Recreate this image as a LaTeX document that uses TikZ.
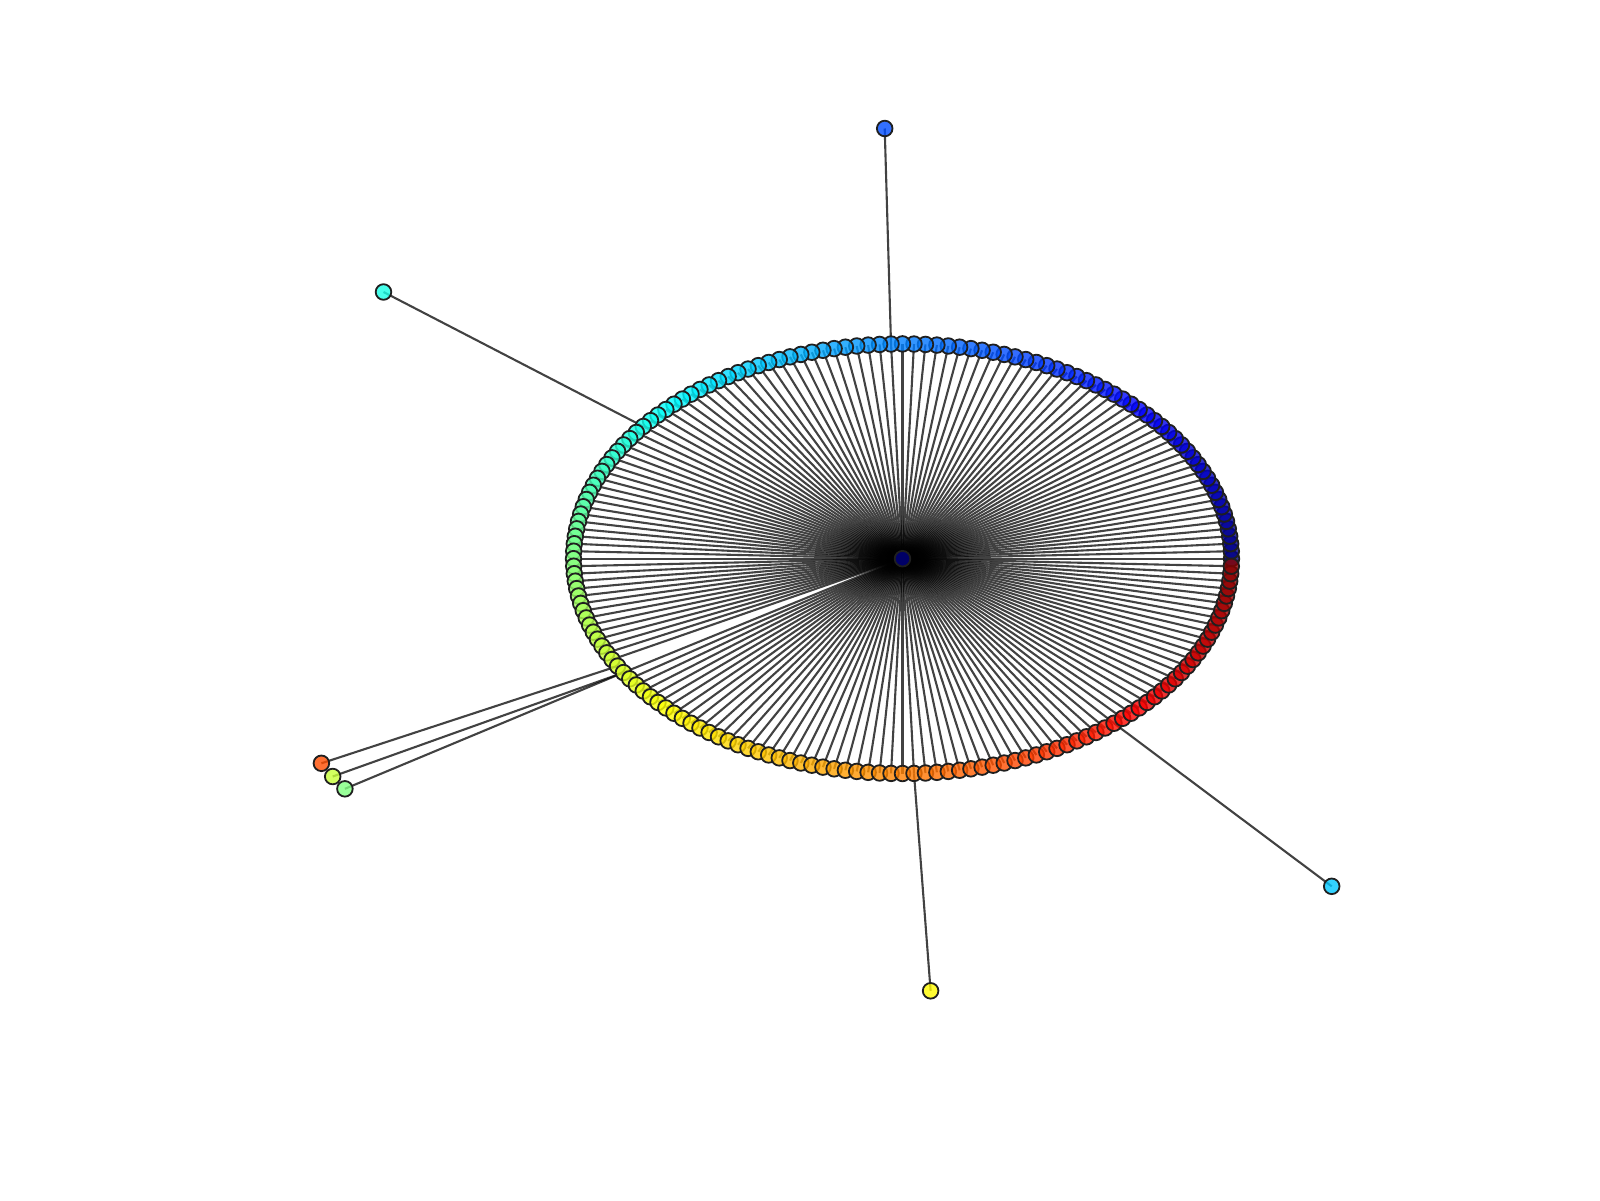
\documentclass[tikz,border=0pt]{standalone}
\newcommand\setjet[2]{%
  \pgfmathsetmacro\jr{max(0,min(1,1.5-abs(4*#2-3)))}%
  \pgfmathsetmacro\jg{max(0,min(1,1.5-abs(4*#2-2)))}%
  \pgfmathsetmacro\jb{max(0,min(1,1.5-abs(4*#2-1)))}%
  \definecolor{#1}{rgb}{\jr,\jg,\jb}}
\begin{document}
\begin{tikzpicture}[x=0.5pt,y=-0.5pt,
  vtx/.style={circle,inner sep=0pt,minimum size=7.8pt,draw=black!88,line width=0.9pt,fill opacity=0.8},
  edg/.style={draw=black,draw opacity=0.74,line width=1.05pt}]
\useasboundingbox (0,0) rectangle (1600,1200);
\coordinate (c) at (902.5,558.7);
\foreach \i in {0,...,179}{
  \coordinate (r\i) at ({902.5+329*cos(2*\i)},{558.7-214.8*sin(2*\i)});
}
\coordinate (o1) at (884.7,128.5);
\coordinate (o2) at (383.5,292);
\coordinate (o3) at (1331.7,886.3);
\coordinate (o4) at (930.6,990.8);
\coordinate (o5) at (321.4,763.3);
\coordinate (o6) at (332.7,776.5);
\coordinate (o7) at (344.9,788.8);
% rays
\foreach \i in {0,...,179}{
  \ifnum\i=105\relax\else\draw[edg] (c) -- (r\i);\fi
}
% outer edges
\draw[edg] (o1) -- (r46);
\draw[edg] (o2) -- (r71);
\draw[edg] (o3) -- (r155);
\draw[edg] (o4) -- (r136);
\draw[edg] (o5) -- (r105);
\draw[edg] (o6) -- (r106);
\draw[edg] (o7) -- (r106);
% nodes
\setjet{cc}{0}
\node[vtx,fill=cc] (nc) at (c) {};
\foreach \i in {0,...,179}{
  \pgfmathsetmacro\tt{\i/180}
  \setjet{nc}{\tt}
  \node[vtx,fill=nc] (n\i) at (r\i) {};
}
\setjet{c1}{0.2}\node[vtx,fill=c1] (no1) at (o1) {};
\setjet{c2}{0.4}\node[vtx,fill=c2] (no2) at (o2) {};
\setjet{c3}{0.32}\node[vtx,fill=c3] (no3) at (o3) {};
\setjet{c4}{0.63}\node[vtx,fill=c4] (no4) at (o4) {};
\setjet{c5}{0.8}\node[vtx,fill=c5] (no5) at (o5) {};
\setjet{c6}{0.57}\node[vtx,fill=c6] (no6) at (o6) {};
\setjet{c7}{0.5}\node[vtx,fill=c7] (no7) at (o7) {};
\end{tikzpicture}
\end{document}
